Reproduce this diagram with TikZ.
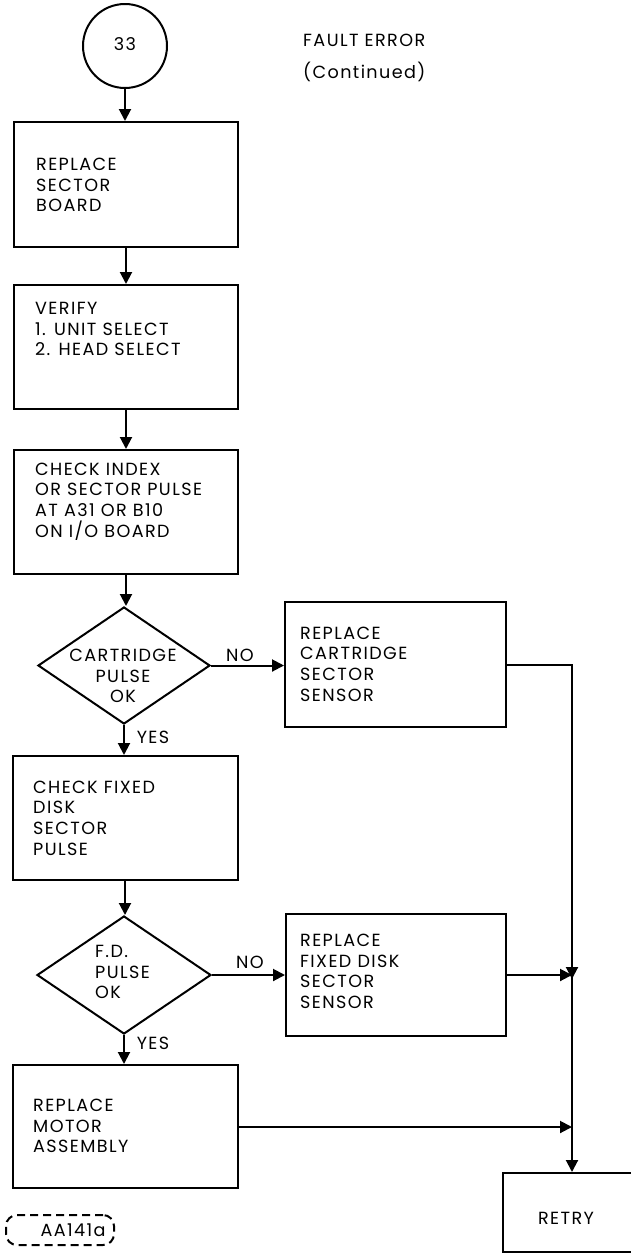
\documentclass[tikz,border=0pt]{standalone}
\usepackage{fontspec}
\setmainfont{Poppins}[LetterSpace=8]
\usetikzlibrary{arrows.meta,shapes.geometric}
\begin{document}
\begin{tikzpicture}[x=1pt,y=-1pt,
  lw/.style={line width=2pt},
  box/.style={draw,lw,rectangle,inner sep=0pt},
  dia/.style={draw,lw,diamond,inner sep=0pt},
  txt/.style={font=\fontsize{17.6}{20.6}\selectfont,align=left,inner sep=0pt},
  ctxt/.style={font=\fontsize{17.6}{20.6}\selectfont,align=center,inner sep=0pt},
  arr/.style={lw,-{Triangle[length=12pt,width=12pt]}}]
\useasboundingbox (0,0) rectangle (631,1256);
% start circle and title
\node[draw,lw,circle,minimum size=84pt,inner sep=0pt] (c33) at (125,46) {};
\node[ctxt] (n33) at (125,44) {33};
\node[txt,anchor=west] (title) at (303,40) {FAULT ERROR};
\node[txt,anchor=west] (cont) at (303,72) {(Continued)};
% main column boxes
\node[box,minimum width=224pt,minimum height=125pt] (b1) at (126,184.5) {};
\node[txt,anchor=west] (t1) at (36,185) {REPLACE\\SECTOR\\BOARD};
\node[box,minimum width=224pt,minimum height=124pt] (b2) at (126,347) {};
\node[txt,anchor=west] (t2) at (35,329) {VERIFY\\1. UNIT SELECT\\2. HEAD SELECT};
\node[box,minimum width=224pt,minimum height=124pt] (b3) at (126,512) {};
\node[txt,anchor=west] (t3) at (35,501.5) {CHECK INDEX\\OR SECTOR PULSE\\AT A31 OR B10\\ON I/O BOARD};
\node[dia,minimum width=172pt,minimum height=117pt] (d1) at (124,665.5) {};
\node[ctxt] (td1) at (123,676) {CARTRIDGE\\PULSE\\OK};
\node[box,minimum width=221pt,minimum height=125pt] (b4) at (395.5,664.5) {};
\node[txt,anchor=west] (t4) at (300,664) {REPLACE\\CARTRIDGE\\SECTOR\\SENSOR};
\node[box,minimum width=225pt,minimum height=124pt] (b5) at (125,818) {};
\node[txt,anchor=west] (t5) at (33,818) {CHECK FIXED\\DISK\\SECTOR\\PULSE};
\node[dia,minimum width=174pt,minimum height=118pt] (d2) at (124,975) {};
\node[txt,anchor=west] (td2) at (95,972) {F.D.\\PULSE\\OK};
\node[box,minimum width=220pt,minimum height=122pt] (b6) at (396,975) {};
\node[txt,anchor=west] (t6) at (300,971.5) {REPLACE\\FIXED DISK\\SECTOR\\SENSOR};
\node[box,minimum width=225pt,minimum height=123pt] (b7) at (125,1126.5) {};
\node[txt,anchor=west] (t7) at (33,1126) {REPLACE\\MOTOR\\ASSEMBLY};
\node[box,minimum width=137pt,minimum height=79pt] (retry) at (571.5,1212.5) {};
\node[ctxt] (tr) at (566,1218) {RETRY};
% labels
\node[ctxt] (no1) at (240,655) {NO};
\node[ctxt] (yes1) at (153,737) {YES};
\node[ctxt] (no2) at (250,962) {NO};
\node[ctxt] (yes2) at (153,1043) {YES};
% tag
\node[draw,lw,dash pattern=on 8pt off 5pt,rounded corners=11pt,minimum width=108pt,minimum height=30pt,inner sep=0pt] (tag) at (60,1230) {};
\node[ctxt] (ttag) at (73,1230) {AA141a};
% junctions
\coordinate (j1) at (572,975);
\coordinate (j2) at (572,1127);
% connectors
\draw[arr] (c33.south) -- (c33.south |- b1.north);
\draw[arr] (b1.south) -- (b1.south |- b2.north);
\draw[arr] (b2.south) -- (b2.south |- b3.north);
\draw[arr] (b3.south) -- (b3.south |- d1.north);
\draw[arr] (d1.east) -- (d1.east -| b4.west);
\draw[arr] (d1.south) -- (d1.south |- b5.north);
\draw[arr] (b5.south) -- (b5.south |- d2.north);
\draw[arr] (d2.east) -- (d2.east -| b6.west);
\draw[arr] (d2.south) -- (d2.south |- b7.north);
\draw[arr] (b4.east) -| ([yshift=-4pt]j1);
\draw[arr] (b6.east) -- (j1);
\draw[arr] (j1) -- (j1 |- retry.north);
\draw[arr] (b7.east |- j2) -- (j2);
\end{tikzpicture}
\end{document}
